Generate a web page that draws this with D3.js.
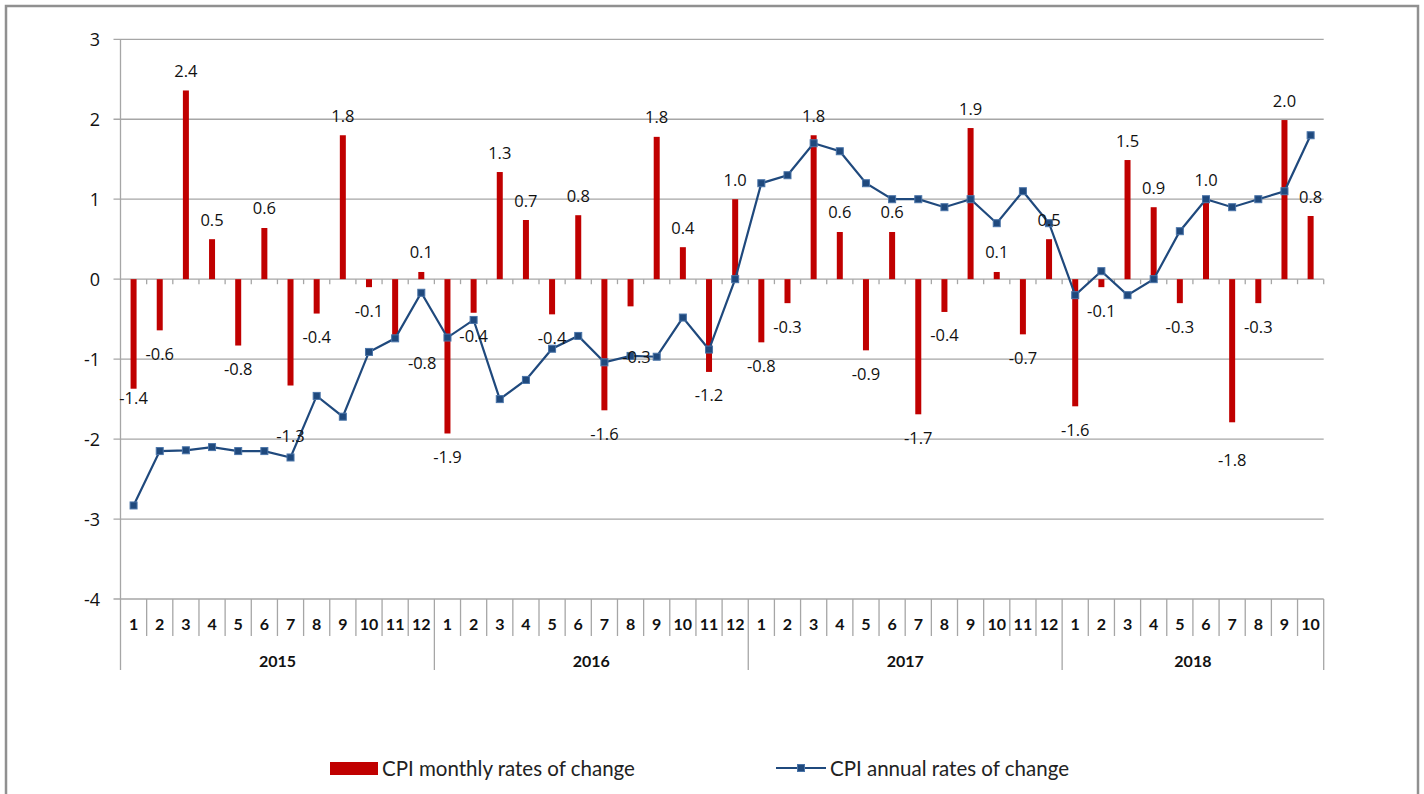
<!DOCTYPE html>
<html lang="en">
<head>
  <meta charset="UTF-8">
  <title>CPI rates of change</title>
  <script src="https://d3js.org/d3.v7.min.js"></script>
  <style>
    body { margin: 0; background: #fff; }
    svg { display: block; }
    .tick-label { font-family: "Open Sans", sans-serif; font-size: 18px; fill: #111; }
    .data-label { font-family: "Open Sans", sans-serif; font-size: 16.5px; fill: #111; }
    .cat-label { font-family: Lato, sans-serif; font-size: 16px; font-weight: bold; fill: #111; }
    .legend-label { font-family: Lato, sans-serif; font-size: 20.5px; fill: #222; }
  </style>
</head>
<body>
  <div id="vis"></div>

  <script>
    // data
    const years = ["2015", "2016", "2017", "2018"];
    const monthsPerYear = [12, 12, 12, 10];

    const monthly = [
      -1.37, -0.64, 2.36, 0.50, -0.83, 0.64, -1.33, -0.43, 1.80, -0.10, -0.76, 0.09,
      -1.93, -0.42, 1.34, 0.74, -0.44, 0.80, -1.64, -0.34, 1.78, 0.40, -1.16, 1.00,
      -0.79, -0.30, 1.80, 0.59, -0.89, 0.59, -1.69, -0.41, 1.89, 0.09, -0.69, 0.50,
      -1.59, -0.10, 1.49, 0.90, -0.30, 1.00, -1.79, -0.30, 1.99, 0.79
    ];

    const annual = [
      -2.83, -2.15, -2.14, -2.10, -2.15, -2.15, -2.23, -1.46, -1.72, -0.91, -0.74, -0.17,
      -0.73, -0.51, -1.50, -1.26, -0.87, -0.71, -1.04, -0.96, -0.97, -0.48, -0.88, 0.00,
      1.20, 1.30, 1.70, 1.60, 1.20, 1.00, 1.00, 0.90, 1.00, 0.70, 1.10, 0.70,
      -0.20, 0.10, -0.20, 0.00, 0.60, 1.00, 0.90, 1.00, 1.10, 1.80
    ];

    const yTicks = [-4, -3, -2, -1, 0, 1, 2, 3];

    // a few labels were moved by hand in the original
    const labelNudge = { 0: [0, -14], 6: [0, 27], 10: [27, 0], 19: [6, 27], 42: [0, 14] };

    const W = 1424, H = 794;
    const plotL = 120.5, plotR = 1323.7, plotT = 39.3, plotB = 599;
    const grid = "#a6a6a6";
    const red = "#c00000", blue = "#1f497d";

    const cats = [];
    years.forEach((yr, i) => {
      for (let m = 1; m <= monthsPerYear[i]; m++) cats.push({ year: yr, month: m });
    });

    const svg = d3.select("#vis").append("svg").attr("width", W).attr("height", H);

    // outer frame
    svg.append("rect")
      .attr("x", 6).attr("y", 6)
      .attr("width", 1412).attr("height", 820)
      .attr("fill", "none")
      .attr("stroke", "#909090")
      .attr("stroke-width", 2.5);

    const x = d3.scaleBand().domain(d3.range(cats.length)).range([plotL, plotR]);
    const y = d3.scaleLinear().domain([-4, 3]).range([plotB, plotT]);
    const bw = x.bandwidth();
    const cx = i => x(i) + bw / 2;
    const edge = k => k === cats.length ? plotR : x(k);

    // gridlines + y labels
    yTicks.forEach(t => {
      svg.append("line")
        .attr("x1", plotL - 7).attr("x2", plotR)
        .attr("y1", y(t)).attr("y2", y(t))
        .attr("stroke", grid).attr("stroke-width", 1.3);
      svg.append("text")
        .attr("class", "tick-label")
        .attr("x", 100).attr("y", y(t))
        .attr("text-anchor", "end")
        .attr("dominant-baseline", "central")
        .text(t);
    });

    // value axis line
    svg.append("line")
      .attr("x1", plotL).attr("x2", plotL)
      .attr("y1", plotT).attr("y2", 670)
      .attr("stroke", grid).attr("stroke-width", 1.3);

    // small ticks under the zero line
    for (let k = 1; k <= cats.length; k++) {
      svg.append("line")
        .attr("x1", edge(k)).attr("x2", edge(k))
        .attr("y1", y(0)).attr("y2", y(0) + 5)
        .attr("stroke", grid).attr("stroke-width", 1.3);
    }

    // category axis at the bottom: month cells and year groups
    let start = 0;
    const yearStarts = [];
    monthsPerYear.forEach(n => { yearStarts.push(start); start += n; });

    for (let k = 1; k <= cats.length; k++) {
      const isYear = k === cats.length || yearStarts.includes(k);
      svg.append("line")
        .attr("x1", edge(k)).attr("x2", edge(k))
        .attr("y1", plotB).attr("y2", isYear ? 670 : 636)
        .attr("stroke", grid).attr("stroke-width", 1.3);
    }

    svg.selectAll(".month")
      .data(cats)
      .enter().append("text")
      .attr("class", "cat-label")
      .attr("x", (d, i) => cx(i))
      .attr("y", 623)
      .attr("text-anchor", "middle")
      .attr("dominant-baseline", "central")
      .text(d => d.month);

    years.forEach((yr, i) => {
      const a = edge(yearStarts[i]);
      const b = edge(yearStarts[i] + monthsPerYear[i]);
      svg.append("text")
        .attr("class", "cat-label")
        .attr("x", (a + b) / 2)
        .attr("y", 660)
        .attr("text-anchor", "middle")
        .attr("dominant-baseline", "central")
        .text(yr);
    });

    // monthly bars
    const barW = 6;
    svg.selectAll(".bar")
      .data(monthly)
      .enter().append("rect")
      .attr("x", (d, i) => cx(i) - barW / 2)
      .attr("y", d => y(Math.max(0, d)))
      .attr("width", barW)
      .attr("height", d => Math.abs(y(d) - y(0)))
      .attr("fill", red);

    // annual line
    const line = d3.line()
      .x((d, i) => cx(i))
      .y(d => y(d));

    svg.append("path")
      .datum(annual)
      .attr("fill", "none")
      .attr("stroke", blue)
      .attr("stroke-width", 2.2)
      .attr("d", line);

    svg.selectAll(".marker")
      .data(annual)
      .enter().append("rect")
      .attr("x", (d, i) => cx(i) - 3.5)
      .attr("y", d => y(d) - 3.5)
      .attr("width", 7).attr("height", 7)
      .attr("fill", blue)
      .attr("stroke", "#4a74a8")
      .attr("stroke-width", 1);

    // data labels for the monthly bars
    svg.selectAll(".data-label")
      .data(monthly)
      .enter().append("text")
      .attr("class", "data-label")
      .attr("x", (d, i) => cx(i) + (labelNudge[i] ? labelNudge[i][0] : 0))
      .attr("y", (d, i) => y(d) + (d >= 0 ? -20 : 23) + (labelNudge[i] ? labelNudge[i][1] : 0))
      .attr("text-anchor", "middle")
      .attr("dominant-baseline", "central")
      .text(d => d.toFixed(1));

    // legend
    const lg = svg.append("g");
    lg.append("rect")
      .attr("x", 330).attr("y", 762)
      .attr("width", 48).attr("height", 13)
      .attr("fill", red);
    lg.append("text")
      .attr("class", "legend-label")
      .attr("x", 382).attr("y", 768)
      .attr("dominant-baseline", "central")
      .text("CPI monthly rates of change");

    lg.append("line")
      .attr("x1", 776).attr("x2", 826)
      .attr("y1", 768).attr("y2", 768)
      .attr("stroke", blue).attr("stroke-width", 2.2);
    lg.append("rect")
      .attr("x", 797.5).attr("y", 764.5)
      .attr("width", 7).attr("height", 7)
      .attr("fill", blue)
      .attr("stroke", "#4a74a8");
    lg.append("text")
      .attr("class", "legend-label")
      .attr("x", 830).attr("y", 768)
      .attr("dominant-baseline", "central")
      .text("CPI annual rates of change");
  </script>

</body>
</html>
